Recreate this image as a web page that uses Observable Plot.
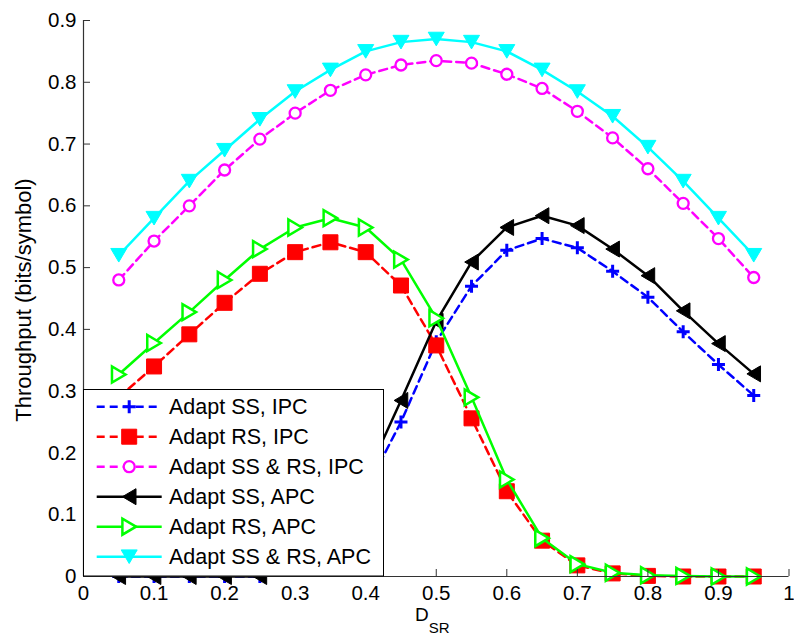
<!DOCTYPE html>
<html><head><meta charset="utf-8">
<script src="https://cdn.jsdelivr.net/npm/d3@7"></script>
<script src="https://cdn.jsdelivr.net/npm/@observablehq/plot@0.6"></script>
<style>html,body{margin:0;padding:0;background:#fff;} #chart{width:794px;height:637px;overflow:hidden;}</style>
</head><body><div id="chart"></div>
<script>
// ---- data ----
const dsr = [0.05,0.1,0.15,0.2,0.25,0.3,0.35,0.4,0.45,0.5,0.55,0.6,0.65,0.7,0.75,0.8,0.85,0.9,0.95];
const ssIpc   = [0,0,0,0,0,0.02,0.06,0.14,0.25,0.38,0.47,0.528,0.547,0.532,0.494,0.452,0.396,0.343,0.293];
const rsIpc   = [0.29,0.34,0.392,0.443,0.49,0.525,0.541,0.525,0.471,0.374,0.256,0.138,0.058,0.018,0.005,0.001,0,0,0];
const ssrsIpc = [0.48,0.543,0.6,0.658,0.708,0.75,0.787,0.812,0.828,0.835,0.831,0.813,0.79,0.753,0.71,0.66,0.604,0.547,0.484];
const ssApc   = [0,0,0,0,0,0.02,0.07,0.16,0.285,0.413,0.509,0.565,0.584,0.568,0.53,0.487,0.43,0.377,0.328];
const rsApc   = [0.327,0.378,0.428,0.48,0.53,0.565,0.58,0.565,0.513,0.418,0.29,0.157,0.062,0.02,0.006,0.002,0.001,0,0];
const ssrsApc = [0.52,0.58,0.64,0.69,0.74,0.785,0.82,0.85,0.865,0.87,0.865,0.85,0.82,0.785,0.745,0.695,0.64,0.58,0.52];
const seriesNames = ["Adapt SS, IPC","Adapt RS, IPC","Adapt SS & RS, IPC","Adapt SS, APC","Adapt RS, APC","Adapt SS & RS, APC"];
const seriesValues = [ssIpc, rsIpc, ssrsIpc, ssApc, rsApc, ssrsApc];
const xTicks = [0,0.1,0.2,0.3,0.4,0.5,0.6,0.7,0.8,0.9,1];
const yTicks = [0,0.1,0.2,0.3,0.4,0.5,0.6,0.7,0.8,0.9];
const yLabel = "Throughput (bits/symbol)";

// ---- marker shapes ----
function mk(fn){ return {draw(c,size){ const r=Math.sqrt(size/Math.PI); fn(c,r); }}; }
const symPlus = mk((c,r)=>{c.moveTo(-r,0);c.lineTo(r,0);c.moveTo(0,-r);c.lineTo(0,r);});
const symSquare = mk((c,r)=>{c.moveTo(-r,-r);c.lineTo(r,-r);c.lineTo(r,r);c.lineTo(-r,r);c.closePath();});
const symCircle = mk((c,r)=>{c.moveTo(r,0);c.arc(0,0,r,0,2*Math.PI);c.closePath();});
const symTriLeft = mk((c,r)=>{c.moveTo(-0.85*r,0);c.lineTo(0.85*r,-r);c.lineTo(0.85*r,r);c.closePath();});
const symTriRight = mk((c,r)=>{c.moveTo(0.85*r,0);c.lineTo(-0.85*r,-r);c.lineTo(-0.85*r,r);c.closePath();});
const symTriDown = mk((c,r)=>{c.moveTo(-r,-0.85*r);c.lineTo(r,-0.85*r);c.lineTo(0,0.85*r);c.closePath();});

const styles = [
  {color:"#0000ff", dash:"8,5", sym:symPlus, r:6.5, fill:"none", sw:3},
  {color:"#ff0000", dash:"8,5", sym:symSquare, r:7.5, fill:"#ff0000", sw:1},
  {color:"#ff00ff", dash:"8,5", sym:symCircle, r:5.5, fill:"#ffffff", sw:2.3},
  {color:"#000000", dash:null, sym:symTriLeft, r:8, fill:"#000000", sw:1},
  {color:"#00ff00", dash:null, sym:symTriRight, r:8, fill:"#ffffff", sw:2.5},
  {color:"#00ffff", dash:null, sym:symTriDown, r:8, fill:"#00ffff", sw:1}
];

const fmt = d => String(+d.toFixed(1));
const FONT = "'Liberation Sans', Arial, Helvetica, sans-serif";

const marks = [];
seriesValues.forEach((vals, i) => {
  const rows = dsr.map((x, j) => ({x, y: vals[j], name: seriesNames[i]}));
  const s = styles[i];
  marks.push(Plot.line(rows, {x:"x", y:"y", stroke:s.color, strokeWidth:2.5, strokeDasharray:s.dash ?? undefined}));
  marks.push(Plot.dot(rows, {x:"x", y:"y", symbol:s.sym, r:s.r, fill:s.fill, stroke:s.color, strokeWidth:s.sw}));
});

const W = 794, H = 637, mL = 83, mR = 5.5, mT = 20, mB = 61;
const frameW = W - mL - mR, frameH = H - mT - mB;

const plot = Plot.plot({
  width: W, height: H,
  marginLeft: mL, marginRight: mR, marginTop: mT, marginBottom: mB,
  x: {domain:[0,1]},
  y: {domain:[0,0.9]},
  style: {fontFamily: FONT, fontSize: "20.5px", background: "#fff", color: "#000", overflow: "visible"},
  marks: [
    ...marks,
    Plot.ruleX([0], {stroke:"#333", strokeWidth:1.2}),
    Plot.ruleY([0], {stroke:"#333", strokeWidth:1.2}),
    Plot.tickX(xTicks, {x: d=>d, insetTop: frameH - 7, stroke:"#333"}),
    Plot.tickY(yTicks, {y: d=>d, insetRight: frameW - 7, stroke:"#333"}),
    Plot.axisX(xTicks, {tickSize:0, tickPadding:9, tickFormat:fmt, label:null, fontSize:20.5}),
    Plot.axisY(yTicks, {tickSize:0, tickPadding:7, tickFormat:fmt, label:null, fontSize:20.5})
  ]
});
document.getElementById("chart").appendChild(plot);

const svg = d3.select(plot);
// y label
svg.append("text")
  .attr("transform", "translate(23,300) rotate(-90)")
  .attr("text-anchor","middle").attr("dy","0.35em")
  .style("font-family", FONT).style("font-size","22px").attr("fill","#000")
  .text(yLabel);
// x label D_SR
const xl = svg.append("text").attr("x", 415).attr("y", 621)
  .attr("text-anchor","start")
  .style("font-family", FONT).attr("fill","#000");
xl.append("tspan").style("font-size","19px").text("D");
xl.append("tspan").style("font-size","15px").attr("dy", 12).text("SR");

// legend (drawn over the data, as in the reference)
const lg = svg.append("g").attr("text-anchor","start");
lg.append("rect").attr("x",83.5).attr("y",389.5).attr("width",300).attr("height",186.5)
  .attr("fill","#fff").attr("stroke","#000").attr("stroke-width",1);
seriesNames.forEach((name, i) => {
  const s = styles[i];
  const cy = 406.7 + 30*i;
  lg.append("line").attr("x1",96.7).attr("x2",161.7).attr("y1",cy).attr("y2",cy)
    .attr("stroke",s.color).attr("stroke-width",2.5)
    .attr("stroke-dasharray", s.dash ?? null);
  lg.append("path").attr("transform",`translate(129.2,${cy})`)
    .attr("d", d3.symbol(s.sym, Math.PI*s.r*s.r)())
    .attr("fill", s.fill).attr("stroke", s.color).attr("stroke-width", s.sw);
  lg.append("text").attr("x",169).attr("y",cy).attr("dy","0.35em")
    .attr("text-anchor","start")
    .style("font-family", FONT).style("font-size","21.5px").attr("fill","#000")
    .text(name);
});
</script></body></html>
